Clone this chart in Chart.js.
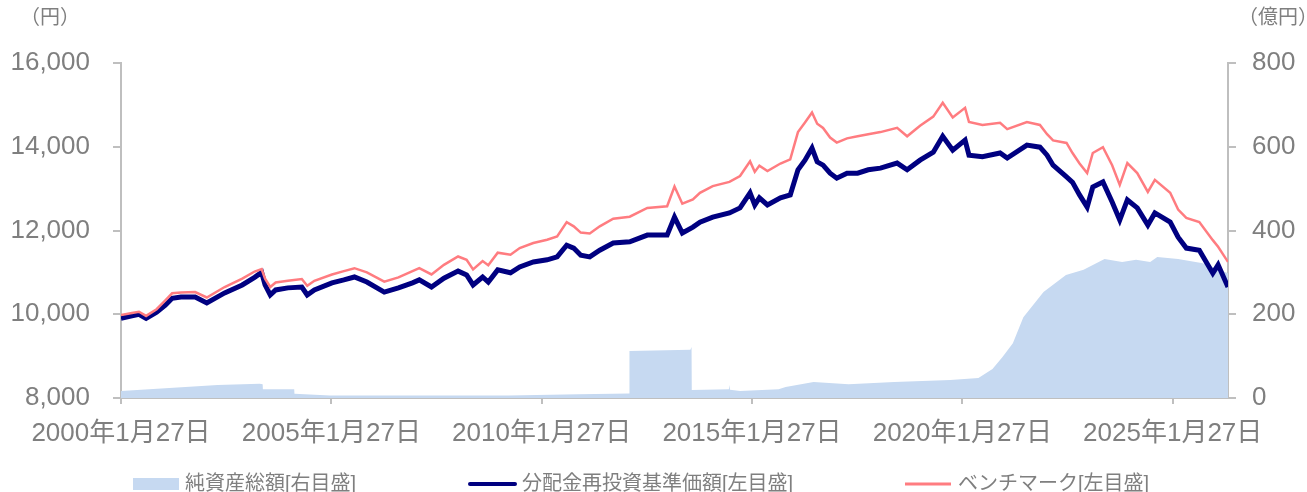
<!DOCTYPE html>
<html>
<head>
<meta charset="utf-8">
<script src="https://cdn.jsdelivr.net/npm/chart.js@4.4.1/dist/chart.umd.min.js"></script>
<style>
  html, body { margin: 0; padding: 0; background: #fff; }
  #wrap { width: 1307px; height: 492px; position: relative; }
</style>
</head>
<body>
<div id="wrap"><canvas id="myChart"></canvas></div>
<script>
// 基準価額・ベンチマーク（左目盛、円）
const lineDates = [
  '2000-01-27', '2000-05-01', '2000-07-01', '2000-09-01', '2000-12-01', '2001-02-15', '2001-04-15', '2001-07-01',
  '2001-11-01', '2002-02-10', '2002-07-15', '2002-12-15', '2003-04-01', '2003-06-01', '2003-07-01', '2003-08-15',
  '2003-10-01', '2004-01-15', '2004-05-15', '2004-07-01', '2004-09-01', '2005-02-01', '2005-05-15', '2005-08-15',
  '2005-12-01', '2006-05-01', '2006-09-01', '2007-01-01', '2007-03-01', '2007-06-15', '2007-10-01', '2008-02-01',
  '2008-04-15', '2008-06-10', '2008-09-01', '2008-10-20', '2009-01-10', '2009-05-01', '2009-07-20', '2009-11-15',
  '2010-03-15', '2010-06-10', '2010-09-01', '2010-11-01', '2011-01-01', '2011-03-20', '2011-06-15', '2011-10-10',
  '2012-03-01', '2012-08-01', '2013-01-20', '2013-03-25', '2013-06-01', '2013-09-01', '2013-11-01', '2014-02-20',
  '2014-07-15', '2014-10-15', '2015-01-10', '2015-02-20', '2015-04-01', '2015-06-10', '2015-10-01', '2015-12-25',
  '2016-03-01', '2016-05-01', '2016-07-01', '2016-08-15', '2016-10-05', '2016-12-05', '2017-02-01', '2017-05-01',
  '2017-08-01', '2017-11-01', '2018-02-15', '2018-07-10', '2018-10-05', '2019-01-25', '2019-05-20', '2019-08-10',
  '2019-11-05', '2020-02-20', '2020-03-25', '2020-07-20', '2020-12-20', '2021-02-20', '2021-08-10', '2021-12-01',
  '2022-02-01', '2022-03-25', '2022-07-20', '2022-09-10', '2022-11-10', '2023-01-15', '2023-03-05', '2023-06-01',
  '2023-08-20', '2023-10-25', '2023-12-30', '2024-03-25', '2024-06-25', '2024-08-25', '2025-01-05', '2025-03-15',
  '2025-05-25', '2025-09-15', '2026-01-10', '2026-02-25', '2026-05-22'
];
const navValues = [
  9900, 9960, 10000, 9900, 10050, 10220, 10380, 10410,
  10410, 10270, 10510, 10700, 10880, 11000, 10700, 10460,
  10580, 10630, 10650, 10460, 10580, 10750, 10820, 10890,
  10770, 10530, 10630, 10750, 10820, 10650, 10860, 11030,
  10940, 10700, 10890, 10770, 11060, 10990, 11130, 11250,
  11300, 11370, 11650, 11580, 11410, 11370, 11530, 11700,
  11730, 11890, 11890, 12320, 11940, 12080, 12200, 12320,
  12420, 12540, 12900, 12610, 12780, 12610, 12780, 12850,
  13450, 13680, 13970, 13640, 13560, 13370, 13250, 13370,
  13370, 13450, 13490, 13610, 13450, 13680, 13870, 14250,
  13920, 14160, 13800, 13760, 13850, 13730, 14040, 13990,
  13800, 13560, 13280, 13150, 12850, 12560, 13040, 13160,
  12680, 12250, 12730, 12540, 12130, 12420, 12200, 11840,
  11580, 11530, 10980, 11180, 10650
];
const benchValues = [
  9980, 10030, 10060, 9960, 10120, 10330, 10500, 10520,
  10530, 10400, 10650, 10850, 11020, 11080, 10850, 10650,
  10760, 10800, 10840, 10680, 10800, 10950, 11030, 11100,
  11000, 10780, 10880, 11030, 11100, 10950, 11180, 11380,
  11300, 11070, 11270, 11170, 11470, 11420, 11580, 11700,
  11780, 11860, 12200, 12100, 11950, 11930, 12100, 12280,
  12330, 12540, 12580, 13050, 12640, 12740, 12900, 13060,
  13160, 13300, 13650, 13400, 13550, 13420, 13600, 13700,
  14350, 14580, 14820, 14550, 14450, 14220, 14100, 14200,
  14250, 14300, 14350, 14450, 14250, 14500, 14720, 15050,
  14700, 14930, 14590, 14520, 14570, 14420, 14590, 14520,
  14300, 14150, 14090, 13850, 13600, 13370, 13850, 13990,
  13560, 13090, 13610, 13370, 12920, 13210, 12900, 12500,
  12300, 12200, 11770, 11610, 11250
];

// 純資産総額（右目盛、億円）
const assetDates = [
  '2000-01-27', '2002-05-15', '2003-05-15', '2003-06-10', '2003-06-12', '2004-03-10', '2004-03-12', '2005-01-15',
  '2009-04-15', '2010-12-15', '2012-02-25', '2012-02-28', '2013-08-10', '2013-08-20', '2013-08-22', '2014-07-10',
  '2014-07-15', '2014-07-20', '2014-10-15', '2015-09-15', '2015-11-15', '2016-07-15', '2017-05-15', '2018-06-15',
  '2019-10-15', '2020-06-15', '2020-10-15', '2021-01-10', '2021-04-10', '2021-07-10', '2022-01-01', '2022-07-15',
  '2022-12-15', '2023-06-15', '2023-11-15', '2024-03-15', '2024-07-15', '2024-09-15', '2025-03-15', '2025-10-15',
  '2026-05-22'
];
const assetValues = [
  17, 31, 34, 33, 21, 21, 10, 6,
  6, 9, 11, 112, 115, 122, 19, 21,
  31, 20, 17, 21, 26, 38, 33, 38,
  43, 48, 69, 98, 131, 193, 253, 294,
  306, 332, 325, 330, 325, 337, 332, 322,
  298
];

const xTickDates = ['2000-01-27', '2005-01-27', '2010-01-27', '2015-01-27', '2020-01-27', '2025-01-27'];
const xTickLabels = ['2000年1月27日', '2005年1月27日', '2010年1月27日', '2015年1月27日', '2020年1月27日', '2025年1月27日'];
const seriesNames = ['純資産総額[右目盛]', '分配金再投資基準価額[左目盛]', 'ベンチマーク[左目盛]'];

const toDay = s => Date.UTC(+s.slice(0, 4), +s.slice(5, 7) - 1, +s.slice(8, 10)) / 86400000;
const pts = (dates, vals) => dates.map((d, i) => ({ x: toDay(d), y: vals[i] }));

const grey = '#7f7f7f';
const axisGrey = '#bfbfbf';
const fontFam = '"Liberation Sans", "Noto Sans CJK JP", Arial, sans-serif';

// 軸タイトルと凡例
const extras = {
  id: 'extras',
  afterDraw(chart) {
    const ctx = chart.ctx;
    ctx.save();
    ctx.fillStyle = grey;
    ctx.textBaseline = 'middle';
    ctx.font = '20px ' + fontFam;
    ctx.textAlign = 'left';
    ctx.fillText('（円）', 20, 18);
    ctx.fillText('（億円）', 1238, 18);

    const ly = 484;
    ctx.font = '20px ' + fontFam;
    ctx.fillStyle = '#c6d9f1';
    ctx.fillRect(133, 478, 46, 12);
    ctx.fillStyle = grey;
    ctx.fillText(seriesNames[0], 185, ly);

    ctx.strokeStyle = '#000080';
    ctx.lineWidth = 4;
    ctx.lineCap = 'round';
    ctx.beginPath(); ctx.moveTo(470, ly); ctx.lineTo(515, ly); ctx.stroke();
    ctx.fillText(seriesNames[1], 522, ly);

    ctx.strokeStyle = '#ff7c80';
    ctx.lineWidth = 3;
    ctx.lineCap = 'butt';
    ctx.beginPath(); ctx.moveTo(905, ly); ctx.lineTo(951, ly); ctx.stroke();
    ctx.fillText(seriesNames[2], 958, ly);
    ctx.restore();
  }
};

new Chart('myChart', {
  type: 'line',
  data: {
    datasets: [{
      label: seriesNames[2],
      data: pts(lineDates, benchValues),
      borderColor: '#ff7c80',
      borderWidth: 2.5,
      pointRadius: 0,
      fill: false,
      yAxisID: 'y'
    }, {
      label: seriesNames[1],
      data: pts(lineDates, navValues),
      borderColor: '#000080',
      borderWidth: 5,
      pointRadius: 0,
      fill: false,
      yAxisID: 'y'
    }, {
      label: seriesNames[0],
      data: pts(assetDates, assetValues),
      borderWidth: 0,
      borderColor: '#c6d9f1',
      backgroundColor: '#c6d9f1',
      pointRadius: 0,
      fill: 'origin',
      yAxisID: 'y1'
    }]
  },
  options: {
    responsive: true,
    maintainAspectRatio: false,
    animation: false,
    layout: { padding: { top: 63, bottom: 0, left: 0, right: 0 } },
    plugins: { legend: { display: false }, tooltip: { enabled: false } },
    scales: {
      x: {
        type: 'linear',
        min: toDay(lineDates[0]),
        max: toDay(lineDates[lineDates.length - 1]),
        afterBuildTicks: s => { s.ticks = xTickDates.map(d => ({ value: toDay(d) })); },
        afterFit: s => { s.height = 94; },
        ticks: {
          autoSkip: false,
          maxRotation: 0,
          padding: 14,
          color: grey,
          font: { size: 26, family: fontFam },
          callback: (v, i) => xTickLabels[i]
        },
        grid: { drawOnChartArea: false, drawTicks: true, tickLength: 6, color: axisGrey, lineWidth: 2 },
        border: { display: true, color: axisGrey, width: 2 }
      },
      y: {
        position: 'left',
        min: 8000,
        max: 16000,
        afterFit: s => { s.width = 121; },
        ticks: {
          stepSize: 2000,
          padding: 23,
          color: grey,
          font: { size: 26, family: fontFam },
          callback: v => v.toLocaleString('en-US')
        },
        grid: { drawOnChartArea: false, drawTicks: true, tickLength: 8, color: axisGrey, lineWidth: 2 },
        border: { display: true, color: axisGrey, width: 2 }
      },
      y1: {
        position: 'right',
        min: 0,
        max: 800,
        afterFit: s => { s.width = 79; },
        ticks: {
          stepSize: 200,
          padding: 16,
          color: grey,
          font: { size: 26, family: fontFam }
        },
        grid: { drawOnChartArea: false, drawTicks: true, tickLength: 8, color: axisGrey, lineWidth: 2 },
        border: { display: true, color: axisGrey, width: 2 }
      }
    }
  },
  plugins: [extras]
});
</script>
</body>
</html>
